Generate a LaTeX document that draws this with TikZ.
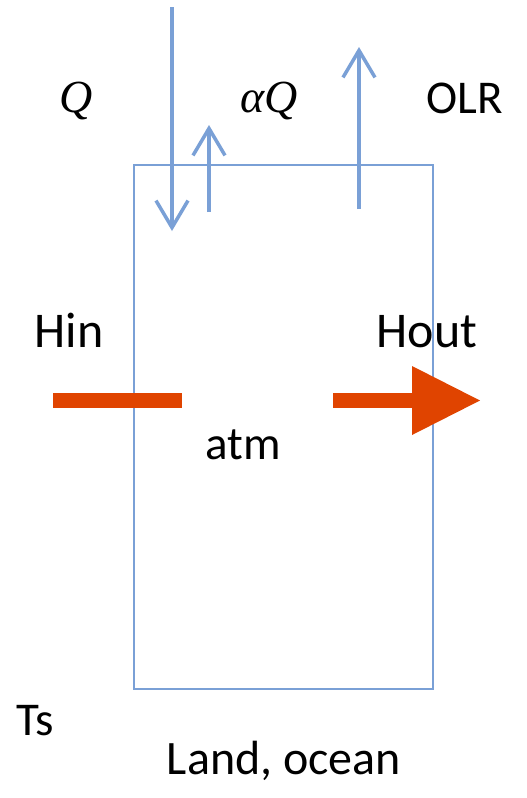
\documentclass[tikz,border=0pt]{standalone}
\usepackage{fontspec}
\setmainfont{Carlito}
\newfontfamily\symfont{Liberation Serif}
\usetikzlibrary{arrows.meta}
\definecolor{flux}{RGB}{122,160,214}
\definecolor{heat}{RGB}{224,68,0}
\begin{document}
\begin{tikzpicture}[x=1pt,y=-1pt,
  lbl/.style={anchor=base, inner sep=0pt, font=\fontsize{47}{52}\selectfont},
  biglbl/.style={anchor=base, inner sep=0pt, font=\fontsize{50}{55}\selectfont},
  mlbl/.style={anchor=base, inner sep=0pt, font=\symfont\itshape\fontsize{46}{50}\selectfont},
  flow/.style={draw=flux, line width=3.5pt, -{Straight Barb[length=27pt,width=32pt]}},
  heatbar/.style={draw=heat, line width=15pt}]
\useasboundingbox[fill=white] (0,0) rectangle (527,798);

% box
\node[draw=flux, line width=2pt, minimum width=299pt, minimum height=524pt, inner sep=0pt] (box) at (283.5,427) {};

% radiation arrows
\coordinate (qtop) at (172,7);
\coordinate (qbot) at (172,231);
\coordinate (aqbot) at (209,212);
\coordinate (aqtop) at (209,125);
\coordinate (olrbot) at (359,209);
\coordinate (olrtop) at (359,47);
\draw[flow] (qtop) -- (qbot);
\draw[flow] (aqbot) -- (aqtop);
\draw[flow] (olrbot) -- (olrtop);

% heat transport
\coordinate (hinL) at (53,400.5);
\coordinate (hinR) at (182,400.5);
\draw[heatbar] (hinL) -- (hinR);
\coordinate (houtL) at (333,400.5);
\coordinate (houtB) at (413,400.5);
\coordinate (houtT) at (480,400.5);
\draw[heatbar] (houtL) -- (houtB);
\fill[heat] (412,366) -- (houtT) -- (412,435) -- cycle;

% labels
\node[mlbl] (q) at (76,112) {Q};
\node[mlbl] (aq) at (269,112) {αQ};
\node[lbl] (olr) at (465,113) {OLR};
\node[biglbl] (hin) at (69,347) {Hin};
\node[biglbl] (hout) at (427,347) {Hout};
\node[lbl] (atm) at (243,459) {atm};
\node[lbl] (ts) at (35,735) {Ts};
\node[lbl, font=\fontsize{48}{53}\selectfont] (land) at (284,774) {Land, ocean};
\end{tikzpicture}
\end{document}
